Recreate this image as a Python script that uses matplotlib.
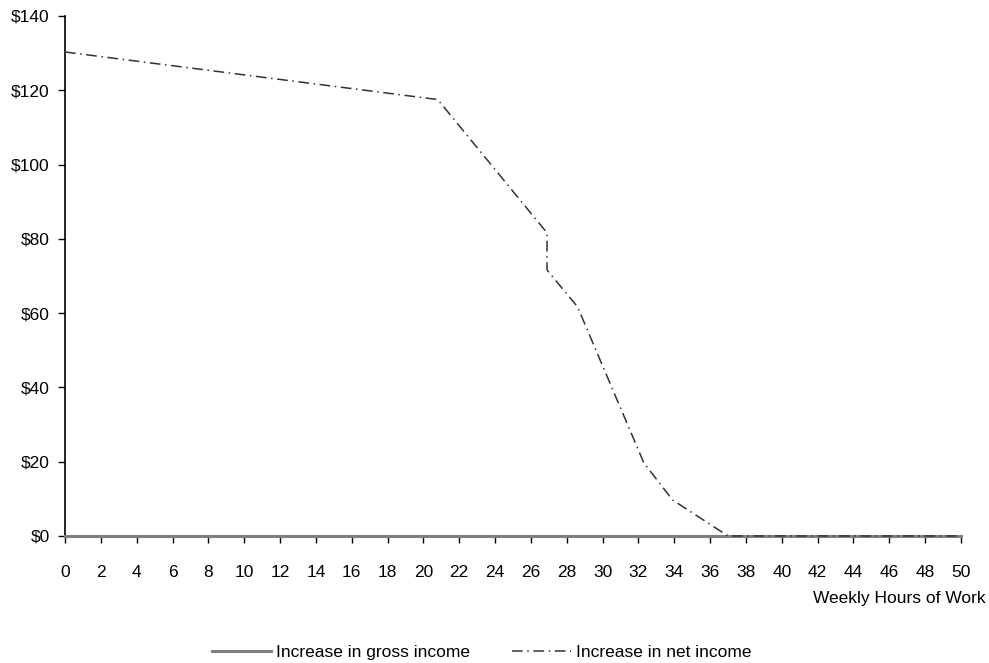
import matplotlib.pyplot as plt
import numpy as np

# weekly hours of work and increase in income ($)
hours_gross = [0, 50]
gross_income = [0, 0]

hours_net = [0, 20.8, 26.9, 26.9, 28.6, 32.3, 33.9, 37.0, 50]
net_income = [130.3, 117.5, 81.6, 71.6, 61.7, 19.7, 9.7, 0, 0]

x_ticks = np.arange(0, 51, 2)
y_ticks = np.arange(0, 141, 20)
y_labels = ['$%d' % v for v in y_ticks]


def main():
    plt.rcParams['font.family'] = ['Liberation Sans', 'DejaVu Sans']
    fontsize = 12.5

    fig = plt.figure(figsize=(9.89, 6.63), dpi=100)
    ax = fig.add_axes([0.0657, 0.1916, 0.906, 0.7843])

    ax.plot(hours_gross, gross_income, color='#808080', linewidth=2.2,
            label='Increase in gross income', clip_on=False, zorder=3)
    ax.plot(hours_net, net_income, color='#333333', linewidth=1.1,
            dashes=(7, 3, 1, 3), label='Increase in net income',
            clip_on=False, zorder=4)

    ax.set_xlim(0, 50)
    ax.set_ylim(0, 140)
    ax.set_xticks(x_ticks)
    ax.set_yticks(y_ticks)
    ax.set_yticklabels(y_labels)
    ax.tick_params(labelsize=fontsize, length=5, width=1, colors='black')
    ax.tick_params(axis='x', pad=16)
    ax.tick_params(axis='y', pad=6)

    for side in ['top', 'right']:
        ax.spines[side].set_visible(False)
    ax.spines['left'].set_linewidth(1.2)
    ax.spines['bottom'].set_linewidth(1.2)

    fig.text(0.997, 0.098, 'Weekly Hours of Work', ha='right', va='center',
             fontsize=fontsize)

    fig.legend(loc='center', bbox_to_anchor=(0.487, 0.016), ncol=2,
               frameon=False, fontsize=fontsize, handlelength=3.4,
               columnspacing=2.4, handletextpad=0.3)

    fig.savefig('out.png', dpi=100)


if __name__ == "__main__":
    main()
